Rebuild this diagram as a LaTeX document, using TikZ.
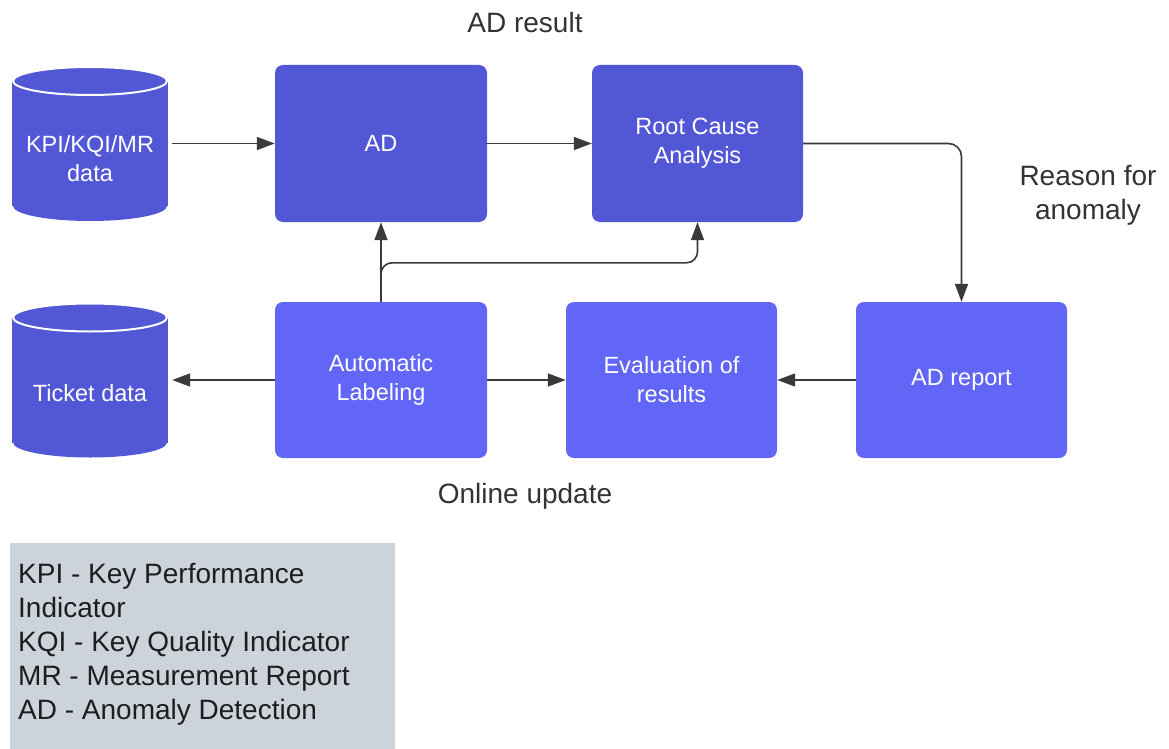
\documentclass[tikz,border=0pt]{standalone}
\usepackage{fontspec}
\setmainfont{Liberation Sans}
\usetikzlibrary{arrows.meta}

\definecolor{boxdark}{HTML}{5257D6}
\definecolor{boxlight}{HTML}{6166F6}
\definecolor{linegray}{HTML}{3A3A3A}
\definecolor{legendfill}{HTML}{CDD3DB}
\definecolor{labelgray}{HTML}{333333}
\definecolor{legendtextcol}{HTML}{1E1E1E}

\begin{document}
\begin{tikzpicture}[x=1pt,y=-1pt,
  stage/.style={rounded corners=8pt, minimum width=212pt, minimum height=157pt,
    text=white, align=center, inner sep=0pt,
    font=\fontsize{23.5}{29}\selectfont},
  upper/.style={stage, fill=boxdark},
  lower/.style={stage, fill=boxlight},
  dbslot/.style={minimum width=156pt, minimum height=155pt, inner sep=0pt,
    path picture={
      \fill[boxdark] ([yshift=-15pt]path picture bounding box.north west)
        rectangle ([yshift=15pt]path picture bounding box.south east);
      \fill[boxdark] ([yshift=15pt]path picture bounding box.south)
        ellipse [x radius=77pt, y radius=15pt];
      \filldraw[fill=boxdark, draw=white, line width=2pt]
        ([yshift=-15pt]path picture bounding box.north)
        ellipse [x radius=77pt, y radius=14pt];
    }},
  dbtext/.style={text=white, align=center, inner sep=0pt,
    font=\fontsize{23.5}{29}\selectfont},
  flow/.style={draw=linegray, line width=1.6pt,
    -{Triangle[length=18pt,width=13pt]}},
  caption/.style={text=labelgray, align=center, inner sep=0pt,
    font=\fontsize{28}{34}\selectfont},
  legendbox/.style={fill=legendfill, inner sep=0pt, anchor=north west,
    minimum width=385pt, minimum height=206pt},
  legendtext/.style={text=legendtextcol, align=left, inner sep=0pt,
    anchor=north west, font=\fontsize{28}{34}\selectfont}
]
\useasboundingbox (0,0) rectangle (1169,749);

% data stores
\node[dbslot] (kpi) at (90,143.5) {};
\node[dbtext] (kpitext) at (90,159) {KPI/KQI/MR\\data};
\node[dbslot] (ticket) at (90,380) {};
\node[dbtext] (tickettext) at (90,393) {Ticket data};

% processing stages
\node[upper] (ad) at (381,143.5) {AD};
\node[upper, minimum width=211pt] (rca) at (697.5,143.5) {Root Cause\\Analysis};
\node[lower, minimum height=156pt] (al) at (381,380) {Automatic\\Labeling};
\node[lower, minimum width=211pt, minimum height=156pt] (eval) at (671.5,380) {Evaluation of\\results};
\node[lower, minimum width=211pt, minimum height=156pt] (adrep) at (961.5,380) {AD report};

% captions
\node[caption] (adresult) at (525,22) {AD result};
\node[caption] (reason) at (1088,195) {Reason for\\anomaly};
\node[caption] (online) at (525,496) {Online update};

% connectors
\draw[flow] ([xshift=4pt]kpi.east) -- (ad.west);
\draw[flow] (ad.east) -- (rca.west);
\draw[flow, rounded corners=13pt] (rca.east) -| (adrep.north);
\draw[flow] (al.north) -- (ad.south);
\draw[flow, rounded corners=11pt] (al.north) -- ++(0,-39) -| (rca.south);
\draw[flow] (al.west) -- ([xshift=4pt]ticket.east);
\draw[flow] (al.east) -- (eval.west);
\draw[flow] (adrep.west) -- (eval.east);

% abbreviations
\node[legendbox] (legend) at (10,543) {};
\node[legendtext] (legendtext) at (18,563) {KPI - Key Performance\\Indicator\\KQI - Key Quality Indicator\\MR - Measurement Report\\AD - Anomaly Detection};
\end{tikzpicture}
\end{document}
